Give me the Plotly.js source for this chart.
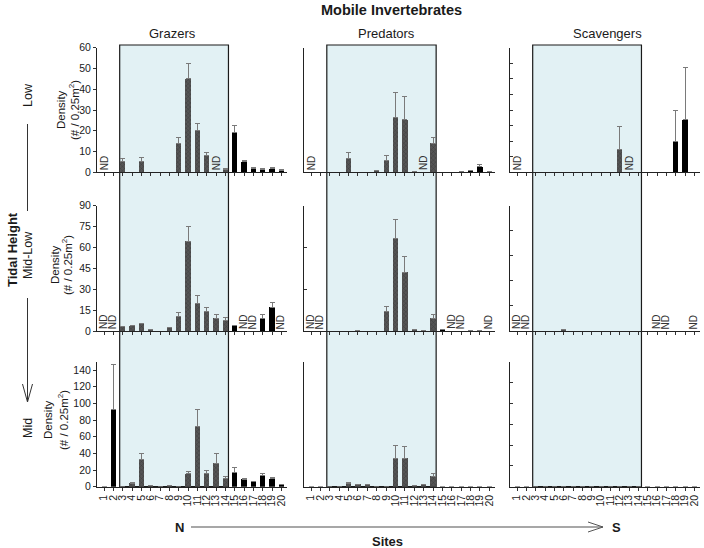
<!DOCTYPE html>
<html>
<head>
<meta charset="utf-8">
<script src="https://cdn.plot.ly/plotly-3.0.1.min.js"></script>
<style>html,body{margin:0;padding:0;background:#fff;}#chart{width:704px;height:548px;}</style>
</head>
<body>
<div id="chart"></div>
<script>
// ---------- DATA (null = ND, not determined) ----------
const sites = [1,2,3,4,5,6,7,8,9,10,11,12,13,14,15,16,17,18,19,20];
const siteLabels = sites.map(String);
const groups = ["Grazers", "Predators", "Scavengers"];
const heights = ["Low", "Mid-Low", "Mid"];

const grazersLow      = [null,0,5,0,5.3,0,0,0,14,45,20,8,null,1.5,19,5,2,1.3,1.8,1];
const grazersLowErr   = [0,0,1.5,0,2,0,0,0,3,7.5,3.5,1.5,0,0.3,3.5,0.7,0.3,0.3,0.7,0.2];
const grazersMidLow   = [null,null,2.9,3.6,5.5,1.2,0,2.2,10.3,64.6,19.6,13.9,9.1,7.2,3.6,null,null,8.9,17,null];
const grazersMidLowErr= [0,0,0,0,0,0,0,0,3.1,10.4,6,3.3,2.9,2.8,0.7,0,0,2.6,3.6,0];
const grazersMid      = [0,93.2,0,4.4,33,2,0,1.6,0,15.6,72.8,16,28.4,10,17.6,9.2,6.4,13.2,9.6,2.8];
const grazersMidErr   = [0,53.6,0,1.2,7,0,0,0,0,2.4,20,4,11.6,2,5.6,0.5,0.4,2.4,2,0];

const predatorsLow      = [null,0,0,0,6.8,0,0,0.8,5.5,26.6,25.3,0.6,null,14,0,0,0.5,1.1,2.7,0.2];
const predatorsLowErr   = [0,0,0,0,2.9,0,0,0,2.7,11.8,11,0,0,2.6,0,0,0,0,1.2,0];
const predatorsMidLow   = [null,null,0,0,0,0.3,0,0,14,66.6,42.2,1.4,0.3,9.3,1.2,null,null,0.2,0.2,null];
const predatorsMidLowErr= [0,0,0,0,0,0,0,0,3.9,13.8,11.5,0,0,2.6,0,0,0,0,0,0];
const predatorsMid      = [0,0,0,0,4,2.8,2.8,0,0,34.4,34.4,1.2,2.8,12.4,0,0,0,0,0,0];
const predatorsMidErr   = [0,0,0,0,1.6,0,0,0,0,14.6,14,0,0,3.2,0,0,0,0,0,0];

const scavengersLow      = [null,0,0,0,0,0,0,0,0,0,0,7.4,null,0,0,0,0,10,16.8,0];
const scavengersLowErr   = [0,0,0,0,0,0,0,0,0,0,0,7.4,0,0,0,0,0,10,16.7,0];
const scavengersMidLow   = [null,null,0,0,0,0.05,0,0,0,0,0,0,0,0,0,null,null,0,0,null];
const scavengersMidLowErr= [0,0,0,0,0,0,0,0,0,0,0,0,0,0,0,0,0,0,0,0];
const scavengersMid      = [0,0,0,0,0,0,0,0,0,0,0,0,0,0,0,0,0,0,0,0];
const scavengersMidErr   = [0,0,0,0,0,0,0,0,0,0,0,0,0,0,0,0,0,0,0,0];

const shadedFirstSite = 3, shadedLastSite = 14;

// ---------- LAYOUT HELPERS ----------
const W = 704, H = 548;
const FONT = "Liberation Sans, Arial, sans-serif";
const px = x => x / W;
const py = y => 1 - y / H;

const colDom = [[97,287],[304,495],[510,700]];
const rowDom = [[47.7,172.3],[205.7,331],[361.7,486.7]];

const panels = [
  [[grazersLow,grazersLowErr],[predatorsLow,predatorsLowErr],[scavengersLow,scavengersLowErr]],
  [[grazersMidLow,grazersMidLowErr],[predatorsMidLow,predatorsMidLowErr],[scavengersMidLow,scavengersMidLowErr]],
  [[grazersMid,grazersMidErr],[predatorsMid,predatorsMidErr],[scavengersMid,scavengersMidErr]]
];

const yRange = [
  [[0,60],[0,60],[0,40]],
  [[0,90],[0,90],[0,5]],
  [[0,150],[0,150],[0,30]]
];
const yTicks = [
  [[0,10,20,30,40,50,60],[60],[5,10,15,20,25,30,35,40]],
  [[0,15,30,45,60,75,90],[30,60,90],[1,2,3,4,5]],
  [[0,20,40,60,80,100,120,140],[150],[5,10,15,20,25,30]]
];

const inShade = s => s >= shadedFirstSite && s <= shadedLastSite;

const data = [];
const layout = {
  width: W, height: H,
  margin: {l:0, r:0, t:0, b:0},
  paper_bgcolor: '#ffffff',
  plot_bgcolor: 'rgba(0,0,0,0)',
  showlegend: false,
  bargap: 0,
  barmode: 'overlay',
  font: {family: FONT, color: '#1a1a1a', size: 11},
  annotations: [],
  shapes: []
};

function label(x, y, text, size, angle) {
  layout.annotations.push({
    x: px(x), y: py(y), xref: 'paper', yref: 'paper', text: text,
    textangle: angle || 0, showarrow: false, xanchor: 'center', yanchor: 'middle',
    font: {size: size, family: FONT, color: '#1a1a1a'}
  });
}

for (let r = 0; r < 3; r++) {
  for (let c = 0; c < 3; c++) {
    const n = r * 3 + c + 1;
    const sfx = n === 1 ? '' : String(n);
    const [vals, errs] = panels[r][c];
    [false, true].forEach(shaded => {
      const idx = sites.map((s, i) => i).filter(i => inShade(sites[i]) === shaded);
      const marker = shaded
        ? {color: '#555555', line: {width: 0},
           pattern: {shape: 'x', fgcolor: '#222222', size: 3, solidity: 0.3, fillmode: 'overlay'}}
        : {color: '#000000', line: {width: 0}};
      data.push({
        type: 'bar',
        x: idx.map(i => sites[i]),
        y: idx.map(i => vals[i] === null ? 0 : vals[i]),
        width: 0.56,
        xaxis: 'x' + sfx, yaxis: 'y' + sfx,
        marker: marker,
        error_y: {
          type: 'data', symmetric: false,
          array: idx.map(i => errs[i]), arrayminus: idx.map(() => 0),
          color: '#7a7a7a', thickness: 1, width: 2.5
        },
        hoverinfo: 'none'
      });
    });
    layout['xaxis' + sfx] = {
      domain: [px(colDom[c][0]), px(colDom[c][1])],
      anchor: 'y' + sfx,
      range: [0.25, 20.6],
      tickmode: 'array', tickvals: sites, ticktext: siteLabels,
      showticklabels: r === 2,
      tickangle: -90,
      tickfont: {size: 10.5, family: FONT, color: '#1a1a1a'},
      ticks: 'outside', ticklen: 3, tickcolor: '#333', tickwidth: 1,
      showline: true, linecolor: '#222', linewidth: 1,
      showgrid: false, zeroline: false, fixedrange: true
    };
    layout['yaxis' + sfx] = {
      domain: [py(rowDom[r][1]), py(rowDom[r][0])],
      anchor: 'x' + sfx,
      range: yRange[r][c],
      tickmode: 'array', tickvals: yTicks[r][c],
      showticklabels: c === 0,
      tickfont: {size: 10.5, family: FONT, color: '#1a1a1a'},
      ticks: c === 0 ? 'outside' : 'inside', ticklen: 3, tickcolor: '#333', tickwidth: 1,
      showline: true, linecolor: '#222', linewidth: 1,
      showgrid: false, zeroline: false, fixedrange: true
    };
    vals.forEach((v, i) => {
      if (v === null) {
        layout.annotations.push({
          x: sites[i], y: 0, xref: 'x' + sfx, yref: 'y' + sfx,
          text: 'ND', textangle: -90, showarrow: false,
          xanchor: 'center', yanchor: 'bottom', borderpad: 0, yshift: 1,
          font: {size: 10, family: FONT, color: '#333'}
        });
      }
    });
  }
}

// y-axis titles (left column)
const densityPos = [[61, 74, 110], [55, 67, 265], [48, 63, 420]];
densityPos.forEach(([x1, x2, yc]) => {
  label(x1, yc, 'Density', 11.5, -90);
  label(x2, yc, '(# / 0.25m<sup>2</sup>)', 11.5, -90);
});

// shaded region (sites 3-14) spanning all rows in each column
for (let c = 0; c < 3; c++) {
  const xr = 'x' + (7 + c);
  layout.shapes.push({
    type: 'rect', xref: xr, yref: 'paper',
    x0: shadedFirstSite - 0.32, x1: shadedLastSite + 0.33,
    y0: py(rowDom[2][1]), y1: py(45),
    fillcolor: '#e2f1f4', line: {color: '#1a1a1a', width: 1.2}, layer: 'below'
  });
}

// titles
const colCenters = [172, 386, 607];
label(392, 10, '<b>Mobile Invertebrates</b>', 14.5);
groups.forEach((g, c) => label(colCenters[c], 34, g, 13));

// tidal height labels
label(12, 250, '<b>Tidal Height</b>', 13, -90);
const hCenters = [95, 255, 428];
heights.forEach((h, r) => label(28, hCenters[r], h, 12.5, -90));
const lineStyle = {color: '#333', width: 1};
layout.shapes.push({type:'line', xref:'paper', yref:'paper', x0:px(27.5), x1:px(27.5), y0:py(124), y1:py(211), line: lineStyle});
layout.shapes.push({type:'line', xref:'paper', yref:'paper', x0:px(27.5), x1:px(27.5), y0:py(298), y1:py(401), line: lineStyle});
layout.shapes.push({type:'line', xref:'paper', yref:'paper', x0:px(22.5), x1:px(27.5), y0:py(384), y1:py(402), line: lineStyle});
layout.shapes.push({type:'line', xref:'paper', yref:'paper', x0:px(32.5), x1:px(27.5), y0:py(384), y1:py(402), line: lineStyle});

// N -> S arrow and Sites
label(179, 527, '<b>N</b>', 13);
label(616, 527, '<b>S</b>', 13);
label(387, 541, '<b>Sites</b>', 13);
const arrowStyle = {color: '#8a8a8a', width: 1.5};
layout.shapes.push({type:'line', xref:'paper', yref:'paper', x0:px(191), x1:px(603), y0:py(527), y1:py(527), line: arrowStyle});
layout.shapes.push({type:'line', xref:'paper', yref:'paper', x0:px(588), x1:px(603), y0:py(522), y1:py(527), line: {color:'#555', width:1}});
layout.shapes.push({type:'line', xref:'paper', yref:'paper', x0:px(588), x1:px(603), y0:py(532), y1:py(527), line: {color:'#555', width:1}});

Plotly.newPlot('chart', data, layout, {staticPlot: true, displayModeBar: false});
</script>
</body>
</html>
